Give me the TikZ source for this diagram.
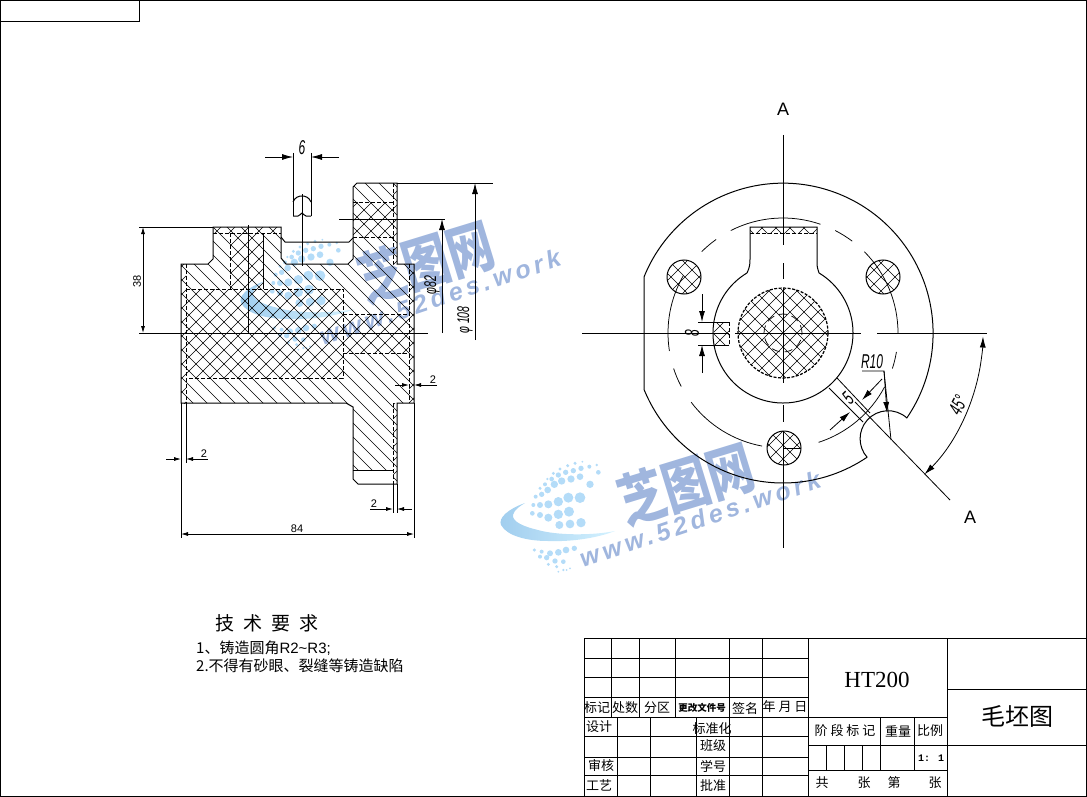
\documentclass[tikz,border=0pt]{standalone}
\usepackage{fontspec}
\setmainfont{Liberation Sans}
\newfontfamily\cjk{Noto Sans CJK SC}
\newfontfamily\timesfont{Liberation Serif}
\newfontfamily\boxfont{Liberation Mono}
\newfontfamily\wmfont[LetterSpace=16]{Liberation Sans}
\usetikzlibrary{arrows.meta}
\definecolor{wmblue}{RGB}{160,182,222}
\definecolor{wmdot}{RGB}{180,220,248}
\definecolor{wmleft}{RGB}{160,205,238}
\definecolor{wmright}{RGB}{212,242,255}

\tikzset{
	partline/.style={line width=1pt},
	thinline/.style={line width=0.75pt},
	hatchline/.style={line width=0.6pt},
	hiddenline/.style={line width=0.8pt, dash pattern=on 4pt off 2pt},
	dimline/.style={line width=0.8pt},
	bigtip/.style={-{Latex[length=11pt,width=6pt]}},
	smalltip/.style={-{Latex[length=7pt,width=4pt]}},
	bothtips/.style={{Latex[length=7pt,width=4pt]}-{Latex[length=7pt,width=4pt]}},
	dimtext/.style={inner sep=0pt, font=\fontsize{11}{11}\selectfont},
	cell/.style={inner sep=0pt, font=\cjk\fontsize{13}{13}\selectfont},
	notetext/.style={inner sep=0pt, anchor=west, font=\cjk\fontsize{15}{15}\selectfont},
	cuttext/.style={inner sep=0pt, font=\fontsize{18}{18}\selectfont}
}

% narrow italic figures of the dimensions
\newcommand{\gbt}[1]{\scalebox{.6}[1]{\itshape\fontsize{20}{20}\selectfont #1}}
\newcommand{\gbs}[1]{\scalebox{.62}[1]{\itshape\fontsize{17}{17}\selectfont #1}}

% section hatching, clipped to a closed path
\newcommand{\hatchdown}[1]{\begin{scope}
	\clip #1;
	\foreach \k in {-1106,-1092,...,1100} \draw[hatchline] ({\k-1000},1000) -- ({\k+1000},-1000);
\end{scope}}
\newcommand{\hatchup}[1]{\begin{scope}
	\clip #1;
	\foreach \k in {-1106,-1092,...,1100} \draw[hatchline] ({\k-1000},-1000) -- ({\k+1000},1000);
\end{scope}}

% watermark, written at the place of the lower one
\newcommand{\wmlogo}[3]{\begin{scope}[shift={(#1,#2)}]
	\shade[left color=wmleft, right color=wmright]
		(525,-503) .. controls (508,-509) and (498,-518) .. (501,-525)
		.. controls (507,-536) and (527,-541) .. (548,-541)
		.. controls (575,-542) and (600,-537) .. (615,-531)
		.. controls (590,-536) and (555,-535) .. (538,-530)
		.. controls (525,-527) and (512,-522) .. (513,-515)
		.. controls (514,-510) and (520,-506) .. (525,-503) -- cycle;
	\foreach \a/\b/\c in {258/203/14,225/207/13,193/210/12,
		222/170/15,190/178/14,160/188/12,135/180/9,112/175/7,
		255/128/16,220/128/15,190/140/14,160/148/12,135/150/9,115/150/6,
		285/88/11,255/65/10,228/72/11,200/78/11,178/88/11,158/105/10,140/118/8,122/125/6,
		258/40/8,235/47/8,212/52/8,190/60/8,170/72/7,150/88/6,135/100/5,
		240/25/5,218/32/5,195/42/5,175/55/5,157/72/4,
		310/52/7,283/35/6,305/30/4,262/20/3,
		118/285/5,140/290/6,165/295/9,190/292/10,213/285/10,238/280/8,
		135/305/6,155/308/8,180/318/8,205/320/7,
		160/328/5,185/335/5,205/345/4,190/350/3,215/345/3,225/340/3}
		\fill[wmdot] ({495+\a/3},{-455-\b/3}) circle ({\c/3});
	\node[inner sep=0pt, rotate=17, text=wmblue] (wmname#3) at (686,-484)
		{\scalebox{1}[1.25]{\cjk\bfseries\fontsize{46}{46}\selectfont 芝图网}};
	\node[inner sep=0pt, rotate=18.5, text=wmblue] (wmsite#3) at (700,-519)
		{\wmfont\bfseries\itshape\fontsize{25}{25}\selectfont www.52des.work};
\end{scope}}

\begin{document}
\begin{tikzpicture}[x=1pt, y=1pt]
	\useasboundingbox (0,0) rectangle (1087,-797);
	\wmlogo{0}{0}{a}
	\wmlogo{-260}{222}{b}

	% sheet
	\draw[partline] (0.5,-0.5) rectangle (1086.5,-796.5);
	\draw[partline] (0.5,-0.5) rectangle (139,-22);

	% section view: single hatch over the whole cut
	\hatchdown{(181,-264) -- (208,-264) -- (213,-259) -- (213,-227) -- (281,-227) -- (281,-258) -- (286,-264) -- (348,-264) -- (353,-259) -- (353,-187) -- (357,-183) -- (397,-183) -- (397,-264) -- (414,-264) -- (414,-403) -- (397,-403) -- (397,-484) -- (393,-484) -- (393,-470) -- (353,-470) -- (353,-407) -- (346,-403) -- (181,-403) -- cycle}
	% cross hatch where the casting allowance lies
	\hatchup{(181,-264) rectangle (186,-403)}
	\hatchup{(186,-289) rectangle (343,-378)}
	\hatchup{(343,-314) rectangle (409,-353)}
	\hatchup{(409,-264) rectangle (414,-403)}
	\hatchup{(353,-202) rectangle (393,-237)}
	\hatchup{(393,-183) rectangle (397,-264)}
	\hatchup{(393,-403) rectangle (397,-484)}
	\hatchup{(213,-227) rectangle (281,-233)}
	\hatchup{(230,-233) rectangle (263,-289)}

	\draw[partline] (181,-264) -- (208,-264) -- (213,-259) -- (213,-227) -- (281,-227) -- (281,-258) -- (286,-264) -- (348,-264) -- (353,-259) -- (353,-187) -- (357,-183) -- (397,-183) -- (397,-264) -- (414,-264) -- (414,-403) -- (397,-403) -- (397,-484) -- (358,-484) -- (353,-479) -- (353,-407) -- (346,-403) -- (181,-403) -- cycle;
	\draw[partline] (281,-237) -- (285,-242) -- (349,-242) -- (353,-238);
	\draw[partline] (353,-470) -- (393,-470);
	\draw[partline] (263,-233) -- (263,-289);
	\draw[partline] (248,-225) -- (248,-333);
	\draw[partline] (139,-333) -- (428,-333);

	\draw[hiddenline] (186,-264) -- (186,-403);
	\draw[hiddenline] (186,-289) -- (343,-289) -- (343,-378) -- (186,-378);
	\draw[hiddenline] (343,-314) -- (409,-314);
	\draw[hiddenline] (343,-353) -- (409,-353);
	\draw[hiddenline] (409,-264) -- (409,-403);
	\draw[hiddenline] (393,-183) -- (393,-264);
	\draw[hiddenline] (393,-403) -- (393,-484);
	\draw[hiddenline] (353,-202) -- (393,-202);
	\draw[hiddenline] (353,-237) -- (393,-237);
	\draw[hiddenline] (213,-233) -- (281,-233);
	\draw[hiddenline] (230,-233) -- (230,-289);

	% key slot seen from above
	\draw[partline] (293,-202) .. controls (295,-197) and (299,-196) .. (302,-196) .. controls (305,-196) and (309,-197) .. (311,-202);
	\draw[partline] (293,-216) -- (298,-216) .. controls (300,-216) and (301,-213) .. (302,-213) .. controls (303,-213) and (304,-216) .. (306,-216) -- (311,-216);
	\draw[partline] (302,-194) -- (302,-266);

	% dimensions of the section
	\draw[dimline] (293,-153) -- (293,-216);
	\draw[dimline] (311,-153) -- (311,-216);
	\draw[dimline, bigtip] (265,-157) -- (293,-157);
	\draw[dimline, bigtip] (339,-157) -- (311,-157);
	\node[inner sep=0pt] (dimsix) at (302,-148) {\gbt{6}};

	\draw[dimline] (139,-227) -- (213,-227);
	\draw[dimline, bothtips] (143,-227) -- (143,-333);
	\node[dimtext, rotate=90] (dimheight) at (137,-281) {38};

	\draw[dimline] (339,-219) -- (445,-219);
	\draw[dimline, bigtip] (442,-333) -- (442,-219);
	\node[inner sep=0pt, rotate=90] (dimboss) at (432,-285) {\gbs{φ82}};
	\draw[dimline] (397,-183) -- (493,-183);
	\draw[dimline, bigtip] (475,-340) -- (475,-183);
	\node[inner sep=0pt, rotate=90] (dimflange) at (465,-320) {\gbs{φ 108}};

	\draw[dimline, smalltip] (395,-385) -- (409,-385);
	\draw[dimline, smalltip] (437,-385) -- (414,-385);
	\node[dimtext] (dimright) at (433,-380) {2};

	\draw[dimline] (181,-403) -- (181,-538);
	\draw[dimline] (186,-403) -- (186,-463);
	\draw[dimline] (414,-403) -- (414,-538);
	\draw[dimline, smalltip] (166,-459) -- (181,-459);
	\draw[dimline, smalltip] (208,-459) -- (186,-459);
	\node[dimtext] (dimleft) at (204,-454) {2};

	\draw[dimline] (393,-484) -- (393,-513);
	\draw[dimline] (397,-484) -- (397,-513);
	\draw[dimline, smalltip] (370,-509) -- (393,-509);
	\draw[dimline, smalltip] (412,-509) -- (397,-509);
	\node[dimtext] (dimfoot) at (374,-504) {2};

	\draw[dimline, bothtips] (181,-534) -- (414,-534);
	\node[dimtext] (dimlength) at (297,-529) {84};

	% end view
	\begin{scope}[shift={(783,-333)}]
		\hatchdown{(-99,56) circle (17)}
		\hatchup{(-99,56) circle (17)}
		\hatchdown{(100,56) circle (17)}
		\hatchup{(100,56) circle (17)}
		\hatchdown{(1,-115) circle (17)}
		\hatchup{(1,-115) circle (17)}
		\hatchdown{(0,0) circle (45)}
		\hatchup{(0,0) circle (45)}
		\hatchdown{(-33,106) rectangle (34,100)}
		\hatchup{(-33,106) rectangle (34,100)}
		\hatchdown{(-69,11) rectangle (-54,-12)}
		\hatchup{(-69,11) rectangle (-54,-12)}

		\draw[partline] (-139,-56) -- (-139,56) arc (158:-34.4:150)
			arc (48:222:28);
		\draw[partline] (-56:150) arc (-56:-158:150);
		\draw[partline] (121:70) arc (121:419:70);
		\draw[partline] (-36,60) .. controls (-33,66) and (-33,70) .. (-33,74) -- (-33,106) -- (34,106) -- (34,70) .. controls (34,66) and (35,63) .. (36,60);
		\draw[hiddenline] (-33,100) -- (34,100);
		\draw[partline] (-99,56) circle (17);
		\draw[partline] (100,56) circle (17);
		\draw[partline] (1,-115) circle (17);
		\draw[partline] (0,-115) -- (18,-115);
		\draw[line width=1.2pt, dash pattern=on 3pt off 1.5pt] (0,0) circle (45);
		\draw[thinline, dash pattern=on 8pt off 5pt] (0,0) circle (19);

		\draw[partline] (-85,11) -- (-54,11);
		\draw[partline] (-85,-12) -- (-54,-12);
		\draw[hiddenline] (-54,11) -- (-54,-12);

		% bolt circle, broken as drawn
		\foreach \from/\to in {117/71, 63/53, 45/0, -9.5/-18, -28/-72, 259.5/217, 207.7/198, 189/150, 135/125.6}
			\draw[thinline] (\from:115) arc (\from:\to:115);

		% centre lines
		\draw[dimline] (-201,0) -- (-54,0);
		\draw[dimline] (-48,0) -- (78,0);
		\draw[dimline] (94,0) -- (204,0);
		\draw[dimline] (0,198) -- (0,88);
		\draw[dimline] (0,70) -- (0,54);
		\draw[dimline] (0,45) -- (0,-50);
		\draw[dimline] (0,-72) -- (0,-89);
		\draw[dimline] (0,-98) -- (0,-215);

		% cut line and its dimensions
		\draw[dimline] (72,-69) -- (167,-167);
		\draw[dimline] (46,-55) -- (80,-89);
		\draw[dimline] (54,-45) -- (87,-80);
		\draw[dimline, bigtip] (99,-46) -- (79,-67);
		\draw[dimline, bigtip] (47,-97) -- (67,-79);
		\node[inner sep=0pt, rotate=45] (dimwidth) at (65,-65) {\gbt{5}};

		\draw[dimline] (79,-38) -- (101,-38) -- (108,-107);
		\draw[dimline, bigtip] (101,-38) -- (104,-80);
		\node[inner sep=0pt] (dimradius) at (89,-29) {\gbt{R10}};

		\draw[dimline, bigtip] (-10:200) arc (-10:-1:200);
		\draw[dimline, bigtip] (-10:200) arc (-10:-45:200);
		\node[inner sep=0pt, rotate=62] (dimangle) at (175,-72) {\gbt{45°}};

		\draw[dimline, bigtip] (-81,39) -- (-81,11);
		\draw[dimline, bigtip] (-81,-40) -- (-81,-12);
		\node[inner sep=0pt, rotate=90] (dimkey) at (-91,0) {\gbt{8}};
	\end{scope}

	\node[cuttext] (cutone) at (783,-109) {A};
	\node[cuttext] (cuttwo) at (970,-517) {A};

	% notes
	\node[inner sep=0pt, font=\cjk\fontsize{19}{19}\selectfont] (notehead) at (267,-623) {技\hspace{9pt}术\hspace{9pt}要\hspace{9pt}求};
	\node[notetext] (noteone) at (196,-648) {1、铸造圆角{\rmfamily R2\textasciitilde R3;}};
	\node[notetext] (notetwo) at (196,-666) {2.不得有砂眼、裂缝等铸造缺陷};

	% title block
	\draw[partline] (584,-638) rectangle (1086.5,-796.5);
	\foreach \y in {658,677,697,717,736,757,775}
		\draw[partline] (584,-\y) -- (808,-\y);
	\foreach \x in {611,639,675,729,762}
		\draw[partline] (\x,-638) -- (\x,-717);
	\foreach \x in {617,650,696,729,762}
		\draw[partline] (\x,-717) -- (\x,-796.5);
	\draw[partline] (808,-638) -- (808,-796.5);
	\draw[partline] (947,-638) -- (947,-796.5);
	\draw[partline] (808,-717) -- (947,-717);
	\draw[partline] (808,-745) -- (1086.5,-745);
	\draw[partline] (808,-770) -- (947,-770);
	\draw[partline] (947,-689) -- (1086.5,-689);
	\foreach \x in {880,914}
		\draw[partline] (\x,-717) -- (\x,-770);
	\foreach \x in {826,844,862}
		\draw[partline] (\x,-745) -- (\x,-770);

	\foreach \x/\y/\txt [count=\i] in {597/708/标记, 625/708/处数, 657/708/分区, 745/709/签名, 785/707/年 月 日,
		599/727/设计, 712/729/标准化, 713/746/班级, 713/766/学号, 601/766/审核, 599/785/工艺, 713/786/批准,
		845/731/阶 段 标 记, 898/731/重量, 930/731/比例, 822/783/共, 864/783/张, 894/783/第, 935/783/张}
		\node[cell] (cell\i) at (\x,-\y) {\txt};
	\node[cell, font=\cjk\bfseries\fontsize{9.5}{9.5}\selectfont] (cellchange) at (702,-708) {更改文件号};
	\node[inner sep=0pt, font=\boxfont\bfseries\fontsize{10}{10}\selectfont] (cellscale) at (931,-758) {1: 1};
	\node[inner sep=0pt, font=\timesfont\fontsize{23}{23}\selectfont] (cellgrade) at (877,-680) {HT200};
	\node[inner sep=0pt, font=\cjk\fontsize{24}{24}\selectfont] (celltitle) at (1017,-716) {毛坯图};
\end{tikzpicture}
\end{document}
